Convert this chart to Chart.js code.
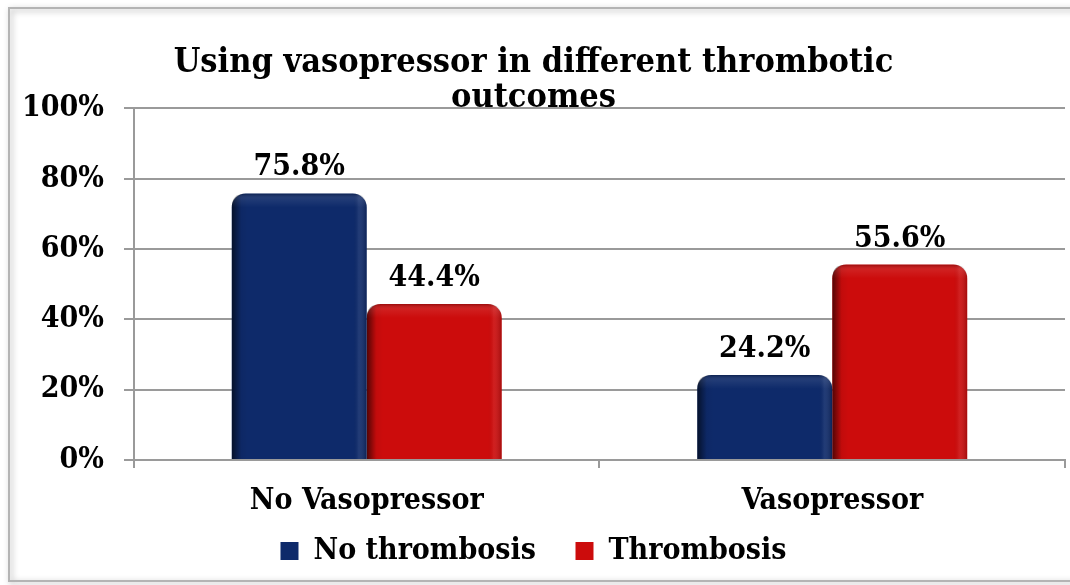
<!DOCTYPE html>
<html>
<head>
<meta charset="utf-8">
<script src="https://cdn.jsdelivr.net/npm/chart.js@4.4.0/dist/chart.umd.min.js"></script>
<style>
body{margin:0;background:#fff;}
</style>
</head>
<body>
<canvas id="barChart" width="1070" height="585"></canvas>
<script>
var categories = ["No Vasopressor", "Vasopressor"];
var noThrombosis = [75.8, 24.2];
var thrombosis = [44.4, 55.6];
var yTicks = [0, 20, 40, 60, 80, 100];
var titleLines = ["Using vasopressor in different thrombotic", "outcomes"];

var serif = "'DejaVu Serif Condensed', 'DejaVu Serif', serif";

// white page with the grey frame around the chart
var framePlugin = {
  id: "frame",
  beforeDraw: function(chart){
    var ctx = chart.ctx;
    ctx.save();
    ctx.fillStyle = "#fff";
    ctx.fillRect(0, 0, chart.width, chart.height);
    ctx.shadowColor = "rgba(0,0,0,0.35)";
    ctx.shadowBlur = 6;
    ctx.shadowOffsetX = 2;
    ctx.shadowOffsetY = 2;
    ctx.strokeStyle = "#b4b4b4";
    ctx.lineWidth = 2;
    ctx.strokeRect(9, 8, 1075, 573);
    ctx.restore();
  }
};

// bevel shading on the bars and value labels above them
var barLook = {
  id: "barLook",
  afterDatasetsDraw: function(chart){
    var ctx = chart.ctx;
    chart.data.datasets.forEach(function(ds, i){
      var meta = chart.getDatasetMeta(i);
      meta.data.forEach(function(el, j){
        var left = el.x - el.width / 2, right = el.x + el.width / 2;
        var top = el.y, bottom = el.base, r = 14;
        ctx.save();
        ctx.beginPath();
        ctx.moveTo(left, bottom);
        ctx.lineTo(left, top + r);
        ctx.quadraticCurveTo(left, top, left + r, top);
        ctx.lineTo(right - r, top);
        ctx.quadraticCurveTo(right, top, right, top + r);
        ctx.lineTo(right, bottom);
        ctx.closePath();
        ctx.clip();
        var g = ctx.createLinearGradient(left, 0, right, 0);
        g.addColorStop(0, "rgba(0,0,0,0.6)");
        g.addColorStop(0.07, "rgba(0,0,0,0.05)");
        g.addColorStop(0.12, "rgba(0,0,0,0)");
        g.addColorStop(0.9, "rgba(0,0,0,0)");
        g.addColorStop(0.94, "rgba(255,255,255,0.08)");
        g.addColorStop(1, "rgba(0,0,0,0.2)");
        ctx.fillStyle = g;
        ctx.fillRect(left, top, right - left, bottom - top);
        var v = ctx.createLinearGradient(0, top, 0, top + 14);
        v.addColorStop(0, "rgba(0,0,0,0.25)");
        v.addColorStop(0.4, "rgba(255,255,255,0.08)");
        v.addColorStop(1, "rgba(255,255,255,0)");
        ctx.fillStyle = v;
        ctx.fillRect(left, top, right - left, 14);
        ctx.restore();

        ctx.save();
        ctx.fillStyle = "#000";
        ctx.font = "bold 30px " + serif;
        ctx.textAlign = "center";
        ctx.textBaseline = "alphabetic";
        ctx.fillText(ds.data[j].toFixed(1) + "%", el.x, el.y - 18);
        ctx.restore();
      });
    });
  }
};

new Chart(document.getElementById("barChart"), {
  type: "bar",
  data: {
    labels: categories,
    datasets: [
      {
        label: "No thrombosis",
        data: noThrombosis,
        backgroundColor: "#0e2a6a",
        borderRadius: {topLeft: 14, topRight: 14, bottomLeft: 0, bottomRight: 0},
        borderSkipped: false,
        categoryPercentage: 0.58,
        barPercentage: 1
      },
      {
        label: "Thrombosis",
        data: thrombosis,
        backgroundColor: "#cc0c0c",
        borderRadius: {topLeft: 14, topRight: 14, bottomLeft: 0, bottomRight: 0},
        borderSkipped: false,
        categoryPercentage: 0.58,
        barPercentage: 1
      }
    ]
  },
  options: {
    responsive: false,
    animation: false,
    layout: { padding: { left: 2, right: 5, top: 0, bottom: 9 } },
    plugins: {
      tooltip: { enabled: false },
      title: {
        display: true,
        text: titleLines,
        color: "#000",
        font: { family: serif, size: 34, weight: "bold", lineHeight: 1.05 },
        padding: { top: 45, bottom: -8 }
      },
      legend: {
        position: "bottom",
        labels: {
          color: "#000",
          boxWidth: 18,
          boxHeight: 18,
          padding: 2,
          font: { family: serif, size: 30, weight: "bold" },
          generateLabels: function(chart){
            var items = Chart.defaults.plugins.legend.labels.generateLabels(chart);
            items.forEach(function(it, k){
              if (k < items.length - 1) it.text = it.text + "    ";
            });
            return items;
          }
        }
      }
    },
    scales: {
      y: {
        min: 0,
        max: 100,
        afterBuildTicks: function(axis){
          axis.ticks = yTicks.map(function(v){ return { value: v }; });
        },
        ticks: {
          color: "#000",
          padding: 20,
          font: { family: serif, size: 30, weight: "bold" },
          callback: function(v){ return v + "%"; }
        },
        grid: { color: "#9a9a9a", lineWidth: 2, tickLength: 10 },
        border: { color: "#9a9a9a", width: 2 }
      },
      x: {
        ticks: {
          color: "#000",
          padding: 15,
          font: { family: serif, size: 30, weight: "bold" }
        },
        grid: { drawOnChartArea: false, color: "#9a9a9a", lineWidth: 2, tickLength: 8 },
        border: { color: "#9a9a9a", width: 2 }
      }
    }
  },
  plugins: [framePlugin, barLook]
});
</script>
</body>
</html>
